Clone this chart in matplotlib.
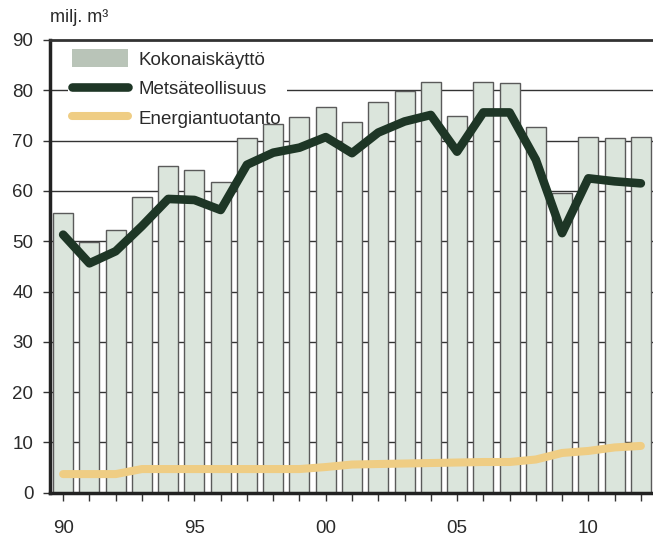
import matplotlib
matplotlib.use("Agg")
import matplotlib.pyplot as plt
from matplotlib.patches import Patch, Rectangle
from matplotlib.lines import Line2D

plt.rcParams['font.family'] = ['Liberation Sans Narrow', 'Liberation Sans', 'DejaVu Sans']

years = list(range(1990, 2013))
kokonais = [55.6, 49.8, 52.3, 58.7, 65.0, 64.1, 61.7, 70.5, 73.3, 74.6, 76.6,
            73.6, 77.6, 79.9, 81.6, 74.8, 81.6, 81.4, 72.8, 59.5, 70.8, 70.6, 70.8]
metsa = [51.3, 45.6, 48.0, 53.0, 58.4, 58.2, 56.2, 65.2, 67.6, 68.6, 70.7,
         67.5, 71.6, 73.8, 75.1, 67.8, 75.6, 75.6, 66.2, 51.6, 62.5, 61.9, 61.5]
energia = [3.7, 3.7, 3.7, 4.7, 4.7, 4.7, 4.7, 4.7, 4.7, 4.7, 5.1,
           5.6, 5.7, 5.8, 5.9, 6.0, 6.1, 6.1, 6.6, 7.9, 8.3, 9.0, 9.3]
xlabels = {1990: '90', 1995: '95', 2000: '00', 2005: '05', 2010: '10'}
yticks = list(range(0, 100, 10))

bar_color = '#dbe5dc'
legend_patch_color = '#b9c4b8'
dark = '#1e3626'
yellow = '#efcd84'
txt = '#2a2a2a'

fig = plt.figure(figsize=(6.53, 5.44), dpi=100)
ax = fig.add_axes([50/653, 51.3/544, 604/653, 452.7/544])

ax.bar(years, kokonais, width=0.76, color=bar_color, edgecolor='#5a5a5a',
       linewidth=1.0, zorder=2)
ax.plot(years, metsa, color=dark, lw=6.2, solid_capstyle='round',
        solid_joinstyle='round', zorder=4)
ax.plot(years, energia, color=yellow, lw=5.8, solid_capstyle='round',
        solid_joinstyle='round', zorder=4)

ax.set_xlim(1989.5, 2012.5)
ax.set_ylim(0, 90)
ax.set_yticks(yticks)
ax.set_xticks(years)
ax.set_xticklabels([xlabels.get(y, '') for y in years])
for yv in yticks[1:-1]:
    ax.axhline(yv, color='#333333', lw=1.0, zorder=1)

# white background behind the legend (below the bars)
ax.add_patch(Rectangle((18/604, 0.83), 219/604, 0.17, transform=ax.transAxes,
                       facecolor='white', edgecolor='none', zorder=1.5))

for s in ['left', 'bottom']:
    ax.spines[s].set_linewidth(2.5)
    ax.spines[s].set_color('#222222')
ax.spines['top'].set_linewidth(2.0)
ax.spines['top'].set_color('#333333')
ax.spines['right'].set_visible(False)

ax.tick_params(axis='y', direction='out', length=5, width=1, pad=7,
               labelsize=13.5, colors='#333333', labelcolor=txt)
ax.tick_params(axis='x', direction='out', length=5.5, width=1, pad=14,
               labelsize=13.5, colors='#333333', labelcolor=txt)

fig.text(50/653, 1 - 18/544, 'milj. m³', fontsize=13, color=txt,
         ha='left', va='center')

handles = [Patch(facecolor=legend_patch_color, edgecolor='none'),
           Line2D([0], [0], color=dark, lw=6.2, solid_capstyle='round'),
           Line2D([0], [0], color=yellow, lw=5.8, solid_capstyle='round')]
labels = ['Kokonaiskäyttö', 'Metsäteollisuus', 'Energiantuotanto']
leg = ax.legend(handles, labels, loc='upper left', bbox_to_anchor=(0.028, 0.99),
                frameon=False, fontsize=13.5, handlelength=3.0,
                handleheight=1.1, handletextpad=0.55, labelspacing=0.55,
                borderpad=0.25, borderaxespad=0.0)
leg.set_zorder(5)
for t in leg.get_texts():
    t.set_color(txt)

fig.savefig('out.png', dpi=100)
